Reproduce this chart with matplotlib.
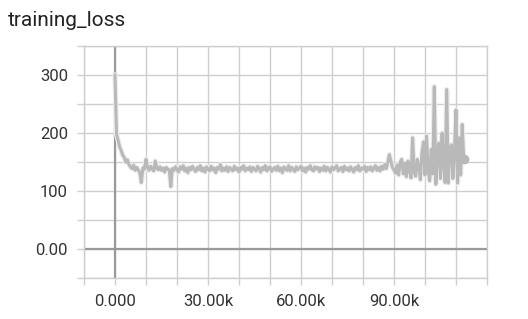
import numpy as np
import matplotlib
matplotlib.use("Agg")
import matplotlib.pyplot as plt
from matplotlib.ticker import MultipleLocator, FuncFormatter

# training loss, one value every 500 steps
step_size = 500
loss = [
    300, 198, 188, 176, 170, 162, 158, 150, 154, 146,
    142, 139, 145, 136, 141, 137, 132, 115, 140, 138,
    155, 141, 136, 143, 138, 135, 152, 140, 137, 142,
    136, 140, 133, 141, 138, 137, 108, 139, 136, 142,
    137, 133, 142, 138, 144, 135, 140, 132, 141, 137,
    143, 138, 134, 141, 137, 144, 135, 140, 133, 142,
    138, 135, 143, 137, 140, 132, 141, 138, 146, 135,
    140, 136, 142, 134, 141, 138, 135, 143, 137, 140,
    133, 141, 138, 144, 135, 140, 137, 142, 134, 141,
    138, 135, 143, 139, 133, 141, 137, 144, 135, 140,
    142, 134, 138, 141, 136, 143, 135, 140, 132, 142,
    138, 136, 144, 135, 141, 138, 134, 142, 137, 140,
    143, 135, 140, 133, 141, 138, 144, 137, 135, 142,
    138, 141, 134, 140, 136, 143, 135, 141, 138, 133,
    142, 137, 140, 144, 135, 138, 141, 134, 143, 137,
    140, 135, 142, 138, 133, 141, 137, 144, 135, 140,
    138, 143, 134, 141, 137, 142, 135, 140, 144, 136,
    141, 135, 143, 138, 146, 139, 150, 163, 152, 141,
    137, 131, 145, 128, 150, 155, 130, 148, 125, 152,
    136, 123, 192, 133, 126, 155, 143, 120, 165, 185,
    128, 195, 138, 118, 172, 130, 280, 112, 162, 183,
    122, 200, 148, 115, 275, 114, 172, 180, 122, 168,
    240, 114, 192, 128, 215, 155,
]
steps = np.arange(len(loss)) * step_size

y_labels = {0: "0.00", 100: "100", 200: "200", 300: "300"}
x_labels = {0: "0.000", 30000: "30.00k", 60000: "60.00k", 90000: "90.00k"}

plt.rcParams["font.family"] = ["Roboto", "DejaVu Sans"]

fig = plt.figure(figsize=(5.28, 3.19), dpi=100)
W, H = 528, 319
ax = fig.add_axes([84 / W, (H - 278.4) / H, (487 - 84) / W, (278.4 - 46) / H])

grid_c = "#cfcfcf"
ax.plot(steps, loss, color="#eeeeee", lw=3.8, zorder=2)
ax.plot(steps, loss, color="#b9b9b9", lw=2.2, zorder=3)
ax.plot(steps[-1], loss[-1], "o", color="#b9b9b9", ms=6, zorder=4)

ax.axhline(0, color="#9a9a9a", lw=1.6, zorder=1.5)
ax.axvline(0, color="#9a9a9a", lw=1.6, zorder=1.5)

ax.set_xlim(-10000, 120000)
ax.set_ylim(-50, 350)
ax.xaxis.set_major_locator(MultipleLocator(10000))
ax.yaxis.set_major_locator(MultipleLocator(50))
ax.xaxis.set_major_formatter(FuncFormatter(lambda v, p: x_labels.get(int(round(v)), "")))
ax.yaxis.set_major_formatter(FuncFormatter(lambda v, p: y_labels.get(int(round(v)), "")))

ax.grid(True, color=grid_c, lw=1.0, zorder=0)
ax.set_axisbelow(True)
for s in ax.spines.values():
    s.set_color(grid_c)
    s.set_linewidth(1.0)
ax.tick_params(axis="both", length=5, width=1.0, color=grid_c,
               labelcolor="#333333", labelsize=12, pad=6.5)

fig.text(8 / W, 1 - 26 / H, "training_loss", fontsize=15, color="#222222",
         ha="left", va="baseline")

fig.savefig("out.png", dpi=100)
